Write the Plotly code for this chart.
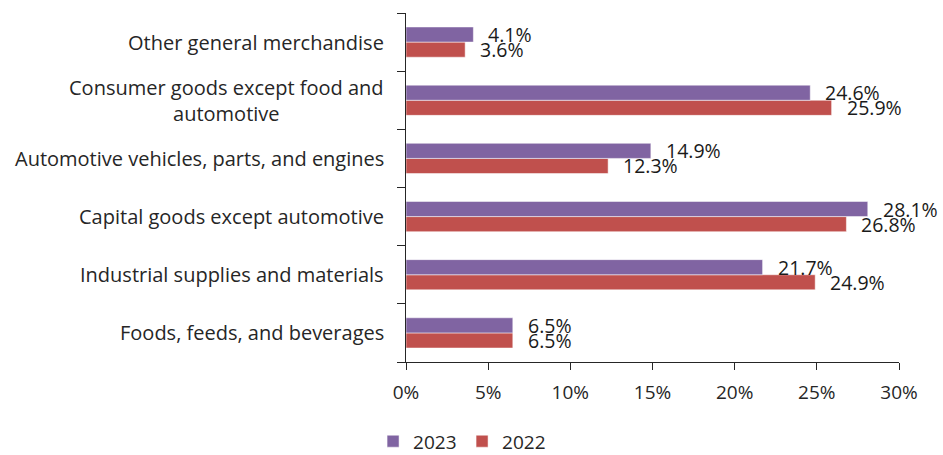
import plotly.graph_objects as go

# Categories listed bottom-to-top as they appear on the axis
categories = [
    "Foods, feeds, and beverages",
    "Industrial supplies and materials",
    "Capital goods except automotive",
    "Automotive vehicles, parts, and engines",
    "Consumer goods except food and<br>automotive",
    "Other general merchandise",
]
share_2023 = [6.5, 21.7, 28.1, 14.9, 24.6, 4.1]
share_2022 = [6.5, 24.9, 26.8, 12.3, 25.9, 3.6]
x_ticks = [0, 5, 10, 15, 20, 25, 30]
x_tick_text = ["0%", "5%", "10%", "15%", "20%", "25%", "30%"]

color_2023 = "#8064A2"
color_2022 = "#C0504D"
font_family = "Open Sans, Noto Sans, sans-serif"
text_color = "#262626"

fig = go.Figure()
fig.add_trace(go.Bar(
    y=categories, x=share_2022, orientation="h", name="2022",
    marker=dict(color=color_2022, line=dict(color="rgba(255,255,255,0.5)", width=1)),
))
fig.add_trace(go.Bar(
    y=categories, x=share_2023, orientation="h", name="2023",
    marker=dict(color=color_2023, line=dict(color="rgba(255,255,255,0.5)", width=1)),
))

# Value labels to the right of each bar
bar_offset_px = 7.5
for cat, v23, v22 in zip(categories, share_2023, share_2022):
    for val, shift in ((v23, bar_offset_px), (v22, -bar_offset_px)):
        fig.add_annotation(
            x=val, y=cat, xref="x", yref="y",
            text=f"{val:.1f}%", showarrow=False,
            xanchor="left", yanchor="middle",
            xshift=13, yshift=shift,
            font=dict(family=font_family, size=19.5, color="#1a1a1a"),
        )

# Category labels, centre-aligned when wrapped
for cat in categories:
    fig.add_annotation(
        x=0, y=cat, xref="paper", yref="y",
        text=cat, showarrow=False, align="center",
        xanchor="right", yanchor="middle", xshift=-20,
        font=dict(family=font_family, size=20, color=text_color),
    )

fig.update_layout(
    width=943, height=455,
    margin=dict(l=406, r=44, t=13, b=93),
    paper_bgcolor="white", plot_bgcolor="white",
    barmode="group", bargap=0.48, bargroupgap=0,
    font=dict(family=font_family, size=19, color=text_color),
    showlegend=True,
    legend=dict(
        orientation="h", traceorder="reversed",
        xref="container", yref="container",
        x=0.49, xanchor="center", y=0.03, yanchor="middle",
        font=dict(size=19, color=text_color),
        itemwidth=30, entrywidth=44,
    ),
    xaxis=dict(
        range=[0, 30], tickvals=x_ticks, ticktext=x_tick_text,
        showgrid=False, zeroline=False,
        showline=True, linecolor=text_color, linewidth=1.3,
        ticks="outside", ticklen=7, tickcolor=text_color, tickwidth=1.3,
        ticklabelstandoff=6,
        tickfont=dict(size=19, color=text_color),
    ),
    yaxis=dict(
        type="category", categoryorder="array", categoryarray=categories,
        showgrid=False, zeroline=False, showticklabels=False,
        showline=True, linecolor=text_color, linewidth=1.3,
        ticks="outside", ticklen=8, tickcolor=text_color, tickwidth=1.3,
        tickson="boundaries",
    ),
)

fig.write_html("out.html")
